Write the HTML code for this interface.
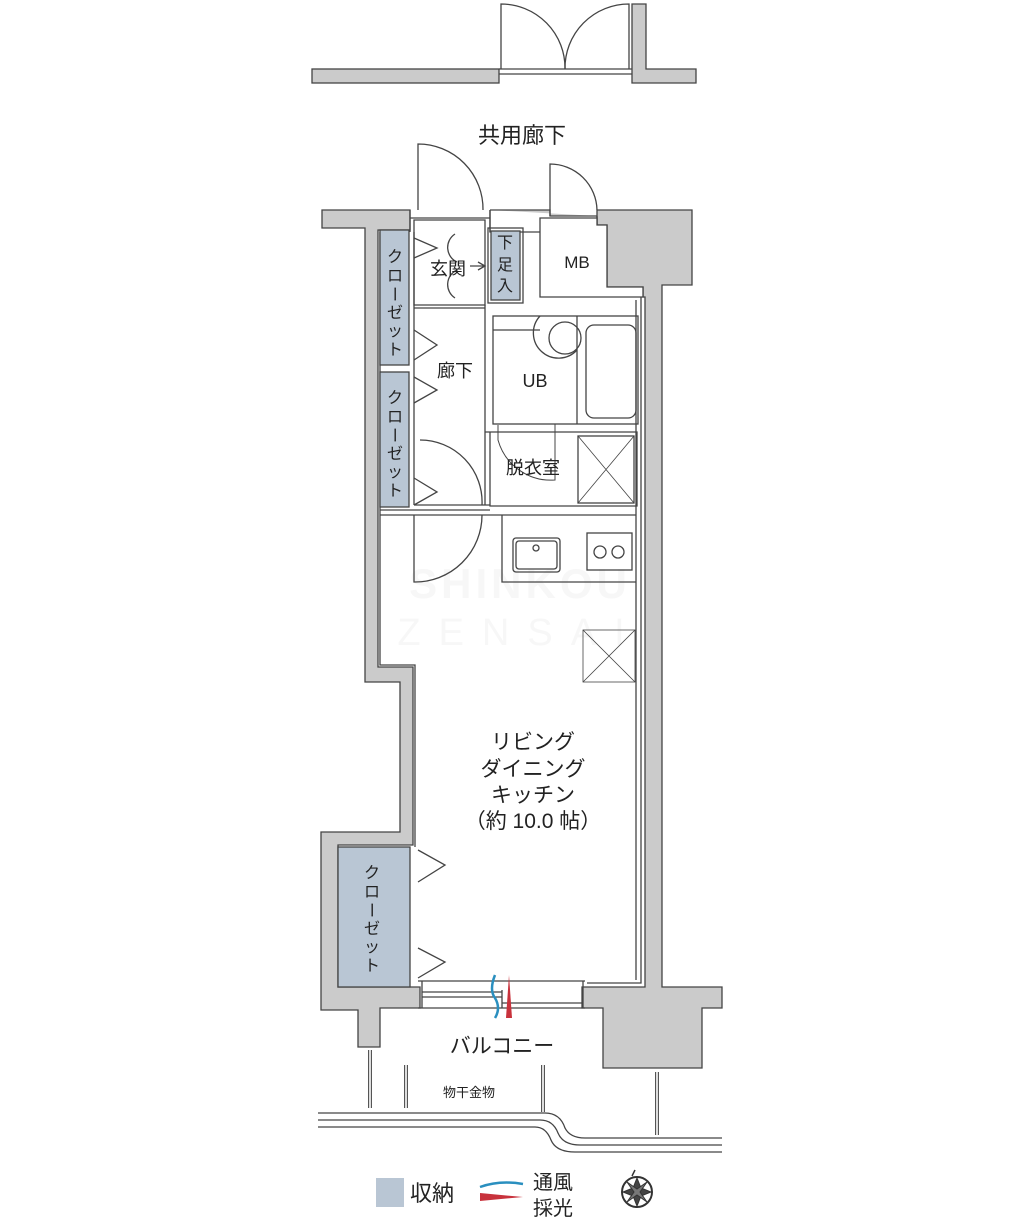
<!DOCTYPE html>
<html><head><meta charset="utf-8">
<style>
html,body{margin:0;padding:0;background:#fff;}
svg{display:block;}
text{font-family:"Liberation Sans","Noto Sans CJK JP",sans-serif;fill:#222;}
</style></head>
<body>
<svg width="1035" height="1224" viewBox="0 0 1035 1224" xmlns="http://www.w3.org/2000/svg">
<!-- watermark -->
<text x="520" y="598" font-size="42" text-anchor="middle" style="fill:#f7f7f7;font-weight:bold;letter-spacing:4px">SHINKOU</text>
<text x="520" y="645" font-size="38" text-anchor="middle" style="fill:#f7f7f7;letter-spacing:18px">ZENSAI</text>
<g stroke="#444" stroke-width="1.3" fill="none">
<rect x="312" y="69" width="187" height="14" fill="#cbcbcb"/>
<path d="M632 4 H646 V69 H696 V83 H632 Z" fill="#cbcbcb"/>
<path d="M499 69 H632 M499 74 H632"/>
<path d="M501 69 V4 A64 64 0 0 1 565 69"/>
<path d="M629 69 V4 A64 64 0 0 0 565 69"/>

<path d="M322 210 H410 V230 H378 V667 H413 V845 H338 V987 H420 V1008 H380 V1047 H358 V1010 H321 V832 H400 V682 H365 V228 H322 Z" fill="#cbcbcb"/>
<path d="M490 210 H550 V216 H597 V210 H692 V285 H662 V987 H722 V1008 H702 V1068 H603 V1008 H582 V987 H645 V297 H643 V287 H607 V225 H597 V216" fill="#cbcbcb"/>
<path d="M490 210 V232 H550 M597 216 V232"/>
<path d="M380 232 V665 H415 V847 M641 297 V983 H587 M636 300 V980"/>
<path d="M418 210 V144 A65 65 0 0 1 483 210"/>
<path d="M410 210 V232 M490 210 V232 M410 218 H490"/>
<path d="M550 216 V164 A47 47 0 0 1 597 210"/>
<path d="M540 218 H597 V225 H607 V287 H643 V297 H540 Z" fill="#fff"/>
<path d="M414 220 H485 V305 H414 Z"/>
<path d="M414 308 H485 M485 305 V505 M414 232 V505"/>
<rect x="488" y="228" width="35" height="75"/>
<rect x="491" y="231" width="29" height="69" fill="#b9c6d4"/>
<path d="M455 234 A16 16 0 0 0 457 262 M455 298 A16 16 0 0 1 457 270 M470 266 H485 M478 262 L485 266 L478 270"/>
<rect x="380" y="230" width="29" height="135" fill="#b9c6d4"/>
<rect x="380" y="372" width="29" height="135" fill="#b9c6d4"/>
<rect x="338" y="847" width="72" height="140" fill="#b9c6d4"/>
<path d="M414 238 L437 248 L414 258 M414 330 L437 345 L414 360 M414 377 L437 390 L414 403 M414 478 L437 492 L414 505"/>
<path d="M418 850 L445 865 L418 882 M418 948 L445 962 L418 978"/>
<rect x="493" y="316" width="145" height="108"/>
<path d="M577 316 V424 M493 330 H540"/>
<rect x="586" y="325" width="50" height="93" rx="8"/>
<circle cx="565" cy="338" r="16"/>
<path d="M540 316 A22 22 0 0 0 577 350"/>
<path d="M485 432 H637 V506 H490 V432"/>
<rect x="578" y="436" width="56" height="67"/>
<path d="M578 436 L634 503 M634 436 L578 503" stroke-width="0.8"/>
<path d="M498 425 V440 A55 55 0 0 0 555 480 V424" stroke-width="1"/>
<path d="M420 440 A62 62 0 0 1 482 505 M414 505 H490 M380 510 H490 M380 515 H636"/>
<path d="M414 515 V582 A67 67 0 0 0 482 515"/>
<path d="M502 515 V582 H636"/>
<rect x="513" y="538" width="47" height="34" rx="3"/>
<rect x="516" y="541" width="41" height="28" rx="3"/>
<circle cx="536" cy="548" r="3"/>
<rect x="587" y="533" width="45" height="37"/>
<circle cx="600" cy="552" r="6"/>
<circle cx="618" cy="552" r="6"/>
<rect x="583" y="630" width="52" height="52" stroke-width="0.8"/>
<path d="M583 630 L635 682 M635 630 L583 682" stroke-width="0.8"/>
<path d="M418 981 H585 M418 1008 H585 M422 992 H502 M422 997 H502 M502 1003 H583 M422 981 V1008 M583 981 V1008 M502 990 V1008"/>
<path d="M370 1050 V1108 M406 1065 V1108 M543 1065 V1112 M657 1072 V1135" stroke-width="4" stroke="#555"/>
<path d="M370 1050 V1108 M406 1065 V1108 M543 1065 V1112 M657 1072 V1135" stroke-width="1.6" stroke="#fff"/>
<path d="M318 1113 H545 Q560 1113 565 1128 Q570 1138 585 1138 H722"/>
<path d="M318 1120 H540 Q553 1120 558 1133 Q563 1145 580 1145 H722"/>
<path d="M318 1127 H535 Q546 1127 551 1140 Q556 1152 575 1152 H722"/>
</g>
<path d="M495 975 Q489 990 495 998 Q501 1008 495 1018" stroke="#2a8fbf" stroke-width="2.5" fill="none"/>
<path d="M506 1018 L509 975 L512 1018 Z" fill="#c8323c"/>
<text x="522" y="143" font-size="22" text-anchor="middle">共用廊下</text>
<text x="448" y="275" font-size="18" text-anchor="middle">玄関</text>
<text x="505" y="248" font-size="16" text-anchor="middle">下</text>
<text x="505" y="270" font-size="16" text-anchor="middle">足</text>
<text x="505" y="291" font-size="16" text-anchor="middle">入</text>
<text x="577" y="268" font-size="17" text-anchor="middle">MB</text>
<text x="455" y="377" font-size="18" text-anchor="middle">廊下</text>
<text x="535" y="387" font-size="18" text-anchor="middle">UB</text>
<text x="533" y="474" font-size="18" text-anchor="middle">脱衣室</text>
<g font-size="16" text-anchor="middle">
<text x="395" y="262">ク</text><text x="395" y="281">ロ</text><text x="395" y="300" transform="rotate(90 395 294)">ー</text><text x="395" y="318">ゼ</text><text x="395" y="336">ッ</text><text x="395" y="355">ト</text>
<text x="395" y="403">ク</text><text x="395" y="422">ロ</text><text x="395" y="441" transform="rotate(90 395 435)">ー</text><text x="395" y="459">ゼ</text><text x="395" y="477">ッ</text><text x="395" y="496">ト</text>
<text x="372" y="878">ク</text><text x="372" y="897">ロ</text><text x="372" y="916" transform="rotate(90 372 910)">ー</text><text x="372" y="934">ゼ</text><text x="372" y="952">ッ</text><text x="372" y="971">ト</text>
</g>
<g font-size="21" text-anchor="middle">
<text x="533" y="749">リビング</text>
<text x="533" y="776">ダイニング</text>
<text x="533" y="802">キッチン</text>
<text x="533" y="828">（約 10.0 帖）</text>
</g>
<text x="502" y="1053" font-size="21" text-anchor="middle">バルコニー</text>
<text x="469" y="1097" font-size="13" text-anchor="middle">物干金物</text>
<rect x="376" y="1178" width="28" height="29" fill="#b9c6d4"/>
<text x="410" y="1201" font-size="22">収納</text>
<path d="M480 1187 Q500 1180 523 1184" stroke="#2a8fbf" stroke-width="2.5" fill="none"/>
<path d="M480 1193 L523 1197 L480 1201 Z" fill="#c8323c"/>
<text x="533" y="1189" font-size="20">通風</text>
<text x="533" y="1215" font-size="20">採光</text>
<g transform="translate(637 1192)" stroke="#333" fill="none">
<circle r="15" stroke-width="2"/>
<path d="M0 -14 L4 -4 L14 0 L4 4 L0 14 L-4 4 L-14 0 L-4 -4 Z" fill="#444"/>
<path d="M10 -10 L3 0 L10 10 L0 3 L-10 10 L-3 0 L-10 -10 L0 -3 Z" fill="#777"/>
<path d="M-2 -22 L-5 -16" stroke-width="1.5"/>
</g>
</svg>
</body></html>
